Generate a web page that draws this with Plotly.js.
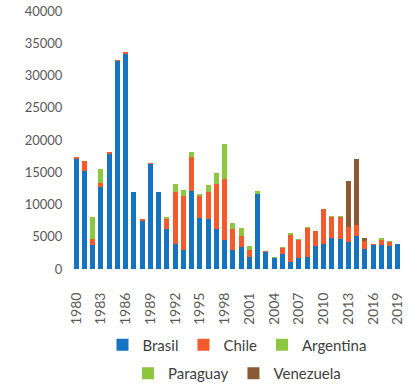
<!DOCTYPE html>
<html>
<head>
<meta charset="utf-8">
<script src="https://cdn.plot.ly/plotly-3.0.1.min.js"></script>
<style>html,body{margin:0;padding:0;background:#fff;}#chart{width:410px;height:388px;}</style>
</head>
<body>
<div id="chart"></div>
<script>
const years = [];
for (let y = 1980; y <= 2019; y++) years.push(y);

const brasil = [17000,15200,3700,12700,17800,32200,33400,12000,7500,16300,
                12000,6150,3800,2950,12100,7950,7700,6150,4450,2950,
                3350,1900,11650,2700,1750,2400,1050,1750,1850,3500,
                3850,4850,4600,4250,5150,3100,3700,3700,3600,3850];
const chile = [400,1500,1000,600,300,250,200,0,250,200,
               0,1550,8200,8400,5300,3350,4300,7000,9500,3250,
               1800,1050,0,150,0,850,4250,2700,4500,2350,
               5400,3200,3450,2250,1750,1300,250,750,650,80];
const argentina = [0,0,3400,2200,0,0,0,0,0,0,
                   0,350,1200,850,700,400,1100,1700,5450,900,
                   1250,600,400,0,100,150,250,150,100,0,
                   0,100,100,0,0,0,0,200,0,0];
const paraguay = [0,0,0,0,0,0,0,0,0,0,
                  0,0,0,0,0,0,0,0,0,0,
                  0,0,0,0,0,0,0,0,0,60,
                  0,0,0,0,0,0,0,150,80,0];
const venezuela = [0,0,0,0,0,0,0,0,0,0,
                   0,0,0,0,0,0,0,0,0,0,
                   0,0,0,0,0,0,0,0,0,0,
                   0,0,0,7200,10200,350,0,0,0,0];
const tickYears = [1980,1983,1986,1989,1992,1995,1998,2001,2004,2007,2010,2013,2016,2019];
const yTicks = [0,5000,10000,15000,20000,25000,30000,35000,40000];

const colors = {Brasil:'#1673BF', Chile:'#F55A2C', Argentina:'#8DC63F', Paraguay:'#8DC63F', Venezuela:'#8B5A35'};
function tr(name, vals, legend) {
  return {type:'bar', name:name, x:years, y:vals, legend:legend,
          marker:{color:colors[name], line:{width:0}}, hoverinfo:'skip'};
}
const data = [
  tr('Brasil', brasil, 'legend'),
  tr('Chile', chile, 'legend'),
  tr('Argentina', argentina, 'legend'),
  tr('Paraguay', paraguay, 'legend2'),
  tr('Venezuela', venezuela, 'legend2')
];
const fnt = {family:'Lato, "Open Sans", sans-serif', size:14, color:'#595959'};
const legFont = {family:'Lato, "Open Sans", sans-serif', size:15, color:'#404040'};
const layout = {
  width:410, height:388,
  margin:{l:72, r:8, t:11, b:119, autoexpand:false},
  paper_bgcolor:'#fff', plot_bgcolor:'#fff',
  barmode:'stack', bargap:0.4,
  showlegend:true,
  xaxis:{range:[1979.5,2019.5], tickmode:'array', tickvals:tickYears, ticktext:tickYears.map(String),
         tickangle:-90, tickfont:fnt, showgrid:false, zeroline:false, showline:false,
         ticks:'outside', ticklen:17, tickcolor:'rgba(0,0,0,0)', automargin:false},
  yaxis:{range:[0,40000], tickmode:'array', tickvals:yTicks, ticktext:yTicks.map(String),
         tickfont:{family:fnt.family, size:13, color:'#595959'}, showgrid:false, zeroline:false, showline:false,
         ticks:'outside', ticklen:6, tickcolor:'rgba(0,0,0,0)', automargin:false},
  legend:{orientation:'h', x:0.5, xanchor:'center', y:-0.295, yanchor:'middle', font:legFont,
          traceorder:'normal', itemclick:false, bgcolor:'rgba(0,0,0,0)', itemwidth:30},
  legend2:{orientation:'h', x:0.5, xanchor:'center', y:-0.405, yanchor:'middle', font:legFont,
          traceorder:'normal', itemclick:false, bgcolor:'rgba(0,0,0,0)', itemwidth:30}
};
Plotly.newPlot('chart', data, layout, {displayModeBar:false, staticPlot:true});
</script>
</body>
</html>
